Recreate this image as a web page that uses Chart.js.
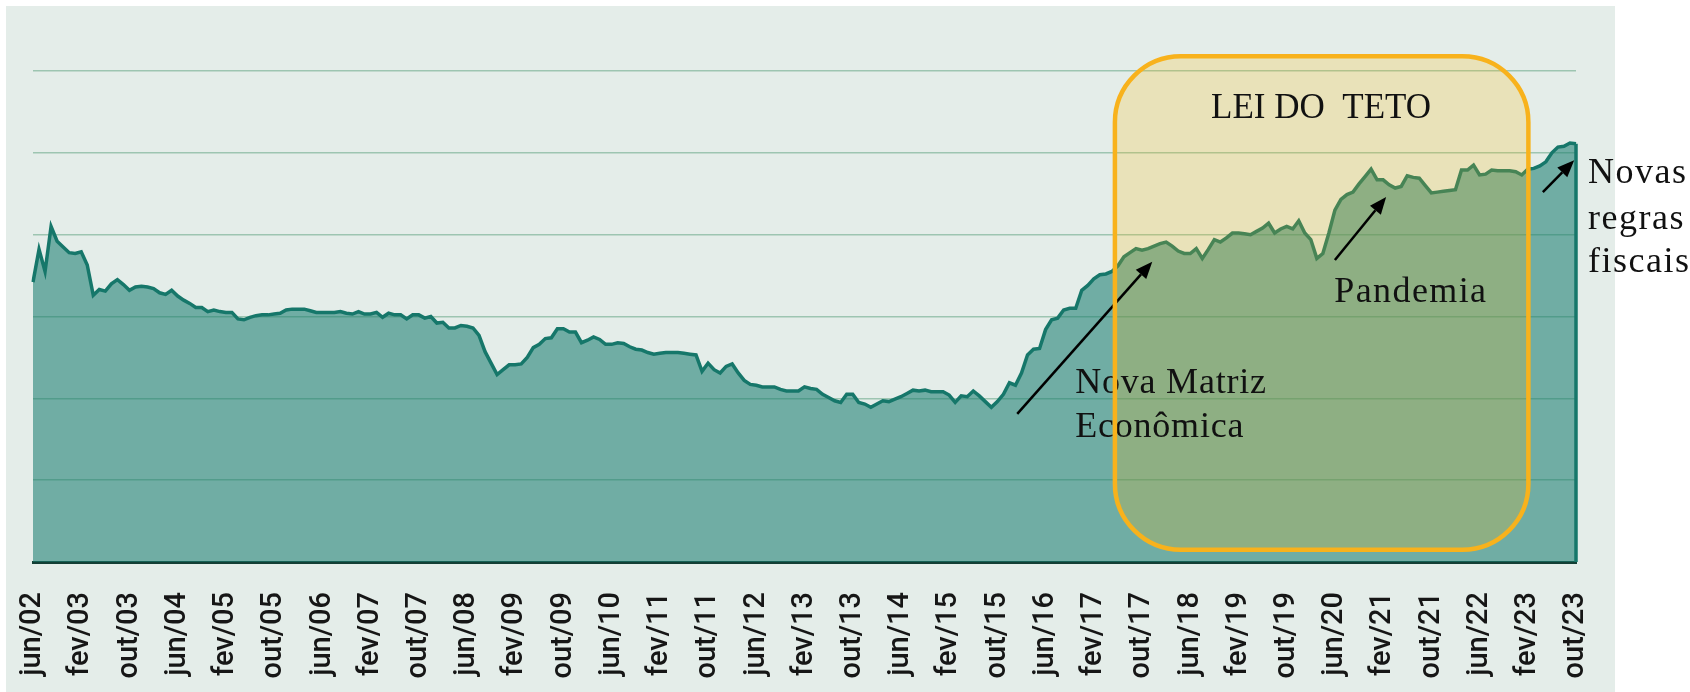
<!DOCTYPE html>
<html>
<head>
<meta charset="utf-8">
<script src="https://cdn.jsdelivr.net/npm/chart.js@4.4.1/dist/chart.umd.min.js"></script>
<style>
  html, body { margin: 0; padding: 0; background: #ffffff; }
  #wrap { width: 1690px; height: 692px; }
</style>
</head>
<body>
<div id="wrap"><canvas id="chart" width="1690" height="692"></canvas></div>
<script>
// months jun/02 .. out/23, one value per month
const monthNames = ["jan", "fev", "mar", "abr", "mai", "jun", "jul", "ago", "set", "out", "nov", "dez"];
const startYear = 2002;
const startMonth = 5; // jun
const tickEvery = 8;

const values = [
  3.42, 3.82, 3.55, 4.10, 3.92, 3.85, 3.78, 3.77, 3.79, 3.63,
  3.26, 3.33, 3.31, 3.40, 3.45, 3.39, 3.32, 3.36, 3.37, 3.36,
  3.34, 3.29, 3.27, 3.32, 3.25, 3.20, 3.16, 3.11, 3.11, 3.06,
  3.08, 3.06, 3.05, 3.05, 2.97, 2.96, 2.99, 3.01, 3.02, 3.02,
  3.03, 3.04, 3.08, 3.09, 3.09, 3.09, 3.07, 3.05, 3.05, 3.05,
  3.05, 3.06, 3.04, 3.03, 3.06, 3.03, 3.03, 3.05, 2.99, 3.04,
  3.02, 3.02, 2.97, 3.02, 3.02, 2.98, 3.00, 2.92, 2.93, 2.86,
  2.86, 2.89, 2.88, 2.86, 2.77, 2.57, 2.43, 2.29, 2.35, 2.41,
  2.41, 2.42, 2.50, 2.62, 2.66, 2.73, 2.74, 2.85, 2.85, 2.81,
  2.81, 2.68, 2.71, 2.75, 2.72, 2.66, 2.66, 2.68, 2.67, 2.63,
  2.60, 2.59, 2.56, 2.54, 2.55, 2.56, 2.56, 2.56, 2.55, 2.54,
  2.53, 2.33, 2.43, 2.35, 2.31, 2.39, 2.42, 2.31, 2.22, 2.17,
  2.16, 2.14, 2.14, 2.14, 2.11, 2.09, 2.09, 2.09, 2.14, 2.12,
  2.11, 2.05, 2.01, 1.97, 1.95, 2.05, 2.05, 1.95, 1.93, 1.89,
  1.93, 1.97, 1.96, 1.99, 2.02, 2.06, 2.10, 2.09, 2.10, 2.08,
  2.08, 2.08, 2.04, 1.95, 2.03, 2.02, 2.09, 2.03, 1.96, 1.89,
  1.96, 2.05, 2.19, 2.16, 2.31, 2.53, 2.60, 2.61, 2.84, 2.96,
  2.98, 3.08, 3.10, 3.10, 3.32, 3.38, 3.46, 3.51, 3.52, 3.55,
  3.62, 3.73, 3.78, 3.83, 3.81, 3.83, 3.86, 3.89, 3.91, 3.86,
  3.80, 3.77, 3.77, 3.83, 3.71, 3.82, 3.94, 3.91, 3.96, 4.02,
  4.02, 4.01, 4.00, 4.04, 4.08, 4.14, 4.02, 4.07, 4.10, 4.07,
  4.17, 4.02, 3.94, 3.71, 3.77, 4.02, 4.30, 4.43, 4.49, 4.52,
  4.62, 4.71, 4.80, 4.67, 4.67, 4.61, 4.57, 4.59, 4.72, 4.70,
  4.69, 4.60, 4.51, 4.52, 4.53, 4.54, 4.55, 4.79, 4.79, 4.85,
  4.73, 4.74, 4.79, 4.78, 4.78, 4.78, 4.77, 4.73, 4.80, 4.81,
  4.84, 4.89, 5.00, 5.07, 5.08, 5.12, 5.11
];

const categories = values.map((_, i) => {
  const m = startMonth + i;
  const yy = String(startYear + Math.floor(m / 12)).slice(2);
  return monthNames[m % 12] + "/" + yy;
});

// annotations, in (month index, value) units
const ceilingBox = { x1: 179.5, x2: 248.1, yTop: 6.18, yBottom: 0.15, label: "LEI DO  TETO", labelX: 213.7, labelY: 5.43 };
const notes = [
  { lines: ["Nova Matriz", "Econômica"], x: 172.9, y: [2.07, 1.53], spacing: "0.8px" },
  { lines: ["Pandemia"], x: 215.9, y: [3.18], spacing: "1.4px" },
  { lines: ["Novas", "regras", "fiscais"], x: 258.0, y: [4.63, 4.07, 3.54], spacing: "1.5px" }
];
const arrows = [
  { from: [163.3, 1.81], to: [185.7, 3.67] },
  { from: [216.0, 3.69], to: [224.5, 4.46] },
  { from: [250.5, 4.52], to: [255.7, 4.91] }
];

const decor = {
  id: "decor",
  beforeDraw(chart) {
    const ctx = chart.ctx;
    ctx.save();
    ctx.fillStyle = "#e4ede9";
    ctx.fillRect(6, 6, 1609, 686);
    ctx.restore();
  },
  afterDatasetsDraw(chart) {
    const ctx = chart.ctx;
    const xs = chart.scales.x, ys = chart.scales.y;
    const px = v => xs.getPixelForValue(v);
    const py = v => ys.getPixelForValue(v);

    // closing edge of the area at the last month
    const last = values.length - 1;
    ctx.save();
    ctx.strokeStyle = "#16776a";
    ctx.lineWidth = 3.5;
    ctx.beginPath();
    ctx.moveTo(px(last), py(values[last]));
    ctx.lineTo(px(last), py(0));
    ctx.stroke();

    // box fill first, text on top, orange outline last
    const bx1 = px(ceilingBox.x1), bx2 = px(ceilingBox.x2);
    const by1 = py(ceilingBox.yTop), by2 = py(ceilingBox.yBottom);
    ctx.beginPath();
    ctx.roundRect(bx1, by1, bx2 - bx1, by2 - by1, 66);
    ctx.fillStyle = "rgba(255, 182, 10, 0.21)";
    ctx.fill();

    ctx.fillStyle = "#111111";
    ctx.textBaseline = "alphabetic";
    ctx.textAlign = "center";
    ctx.font = "35px 'Liberation Serif'";
    ctx.fillText(ceilingBox.label, px(ceilingBox.labelX), py(ceilingBox.labelY));

    ctx.textAlign = "left";
    ctx.font = "36px 'Liberation Serif'";
    notes.forEach(n => {
      ctx.letterSpacing = n.spacing;
      n.lines.forEach((t, k) => ctx.fillText(t, px(n.x), py(n.y[k])));
    });
    ctx.letterSpacing = "0px";

    // arrows
    ctx.strokeStyle = "#000000";
    ctx.fillStyle = "#000000";
    ctx.lineWidth = 2.5;
    arrows.forEach(a => {
      const x0 = px(a.from[0]), y0 = py(a.from[1]);
      const x1 = px(a.to[0]), y1 = py(a.to[1]);
      const ang = Math.atan2(y1 - y0, x1 - x0);
      const len = 17, half = 7;
      const hx = x1 - len * Math.cos(ang), hy = y1 - len * Math.sin(ang);
      ctx.beginPath();
      ctx.moveTo(x0, y0);
      ctx.lineTo(hx, hy);
      ctx.stroke();
      ctx.beginPath();
      ctx.moveTo(x1, y1);
      ctx.lineTo(hx + half * Math.sin(ang), hy - half * Math.cos(ang));
      ctx.lineTo(hx - half * Math.sin(ang), hy + half * Math.cos(ang));
      ctx.closePath();
      ctx.fill();
    });

    ctx.beginPath();
    ctx.roundRect(bx1, by1, bx2 - bx1, by2 - by1, 66);
    ctx.strokeStyle = "#f8b21c";
    ctx.lineWidth = 4.5;
    ctx.stroke();
    ctx.restore();
  }
};

new Chart(document.getElementById("chart"), {
  type: "line",
  data: {
    labels: categories,
    datasets: [{
      data: values,
      borderColor: "#16776a",
      borderWidth: 3.5,
      backgroundColor: "rgba(25, 125, 110, 0.57)",
      fill: "origin",
      pointRadius: 0,
      tension: 0
    }]
  },
  options: {
    responsive: false,
    animation: false,
    layout: { padding: { left: 33, right: 114, top: 71, bottom: 0 } },
    plugins: { legend: { display: false }, tooltip: { enabled: false } },
    scales: {
      x: {
        grid: { display: false },
        border: { display: true, color: "#123f35", width: 3 },
        ticks: {
          autoSkip: false,
          minRotation: 90,
          maxRotation: 90,
          padding: 22,
          color: "#161616",
          font: { family: "Roboto", size: 29, weight: "500" },
          callback: (v, i) => (i % tickEvery === 0 ? categories[i] : null)
        },
        afterFit: s => { s.height = 130; }
      },
      y: {
        min: 0,
        max: 6,
        ticks: { display: false, stepSize: 1 },
        grid: { color: "#9dc5b1", lineWidth: 1.5, drawTicks: false },
        border: { display: false },
        afterFit: s => { s.width = 0; }
      }
    }
  },
  plugins: [decor]
});
</script>
</body>
</html>
